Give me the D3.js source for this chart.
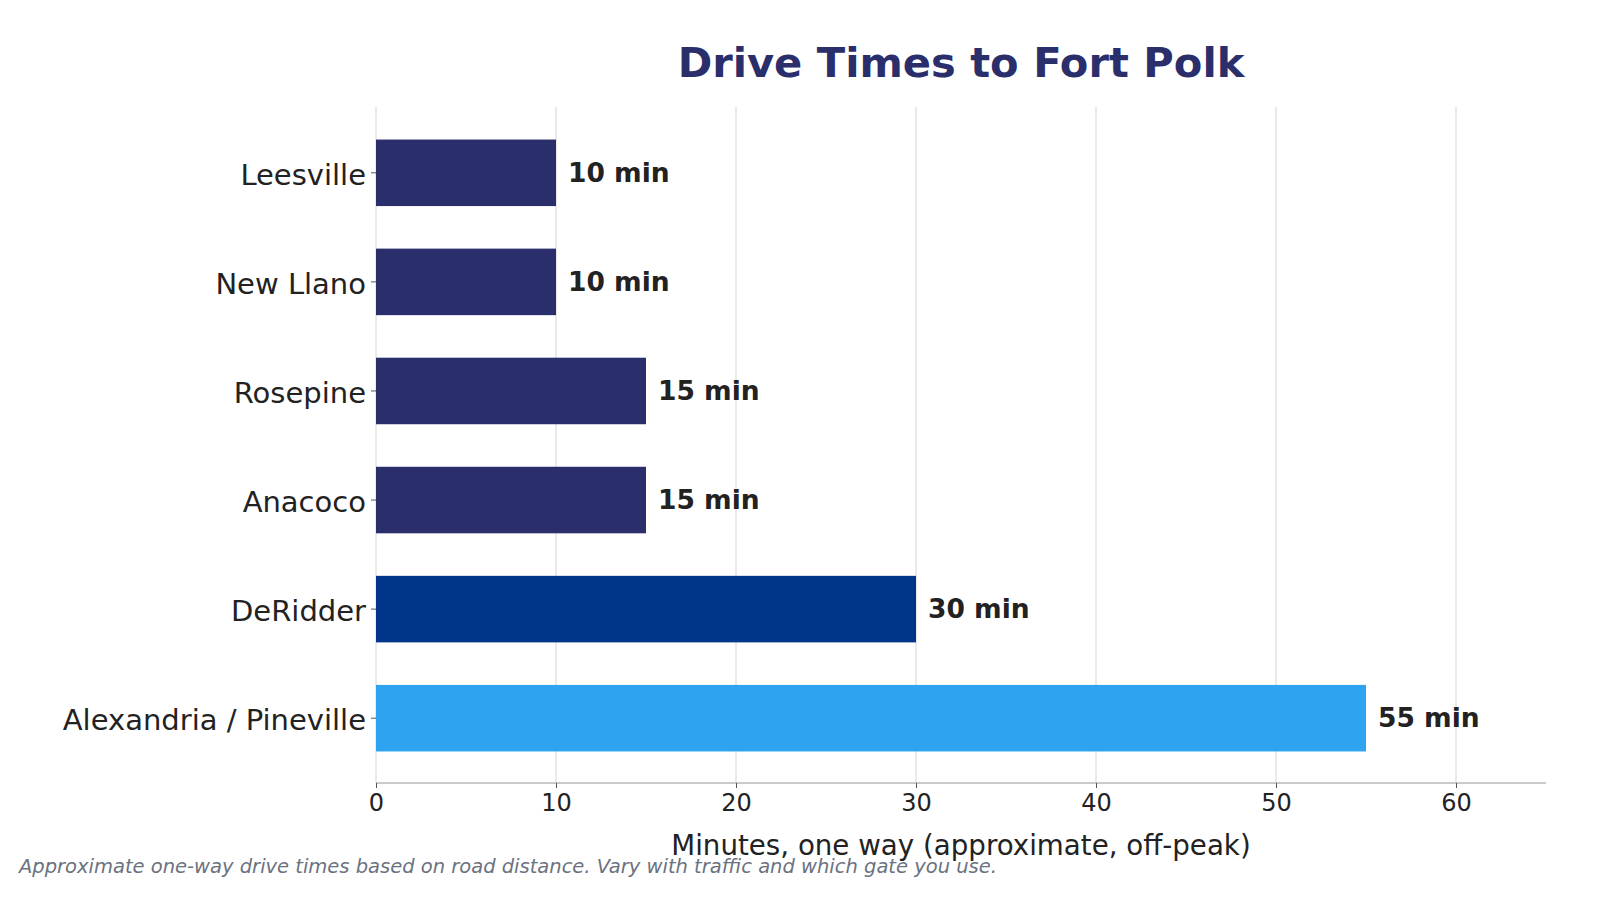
<!DOCTYPE html>
<html>
<head>
<meta charset="utf-8">
<script src="https://cdn.jsdelivr.net/npm/d3@7"></script>
<style>
  html, body { margin: 0; padding: 0; background: #fff; }
  svg { display: block; font-family: "DejaVu Sans", sans-serif; }
</style>
</head>
<body>
<svg id="chart" width="1600" height="900"></svg>
<script>
const categories = ["Leesville", "New Llano", "Rosepine", "Anacoco", "DeRidder", "Alexandria / Pineville"];
const minutes = [10, 10, 15, 15, 30, 55];
const barColors = ["#2a2e6b", "#2a2e6b", "#2a2e6b", "#2a2e6b", "#00368a", "#2ea3f0"];
const xTicks = [0, 10, 20, 30, 40, 50, 60];
const title = "Drive Times to Fort Polk";
const xLabel = "Minutes, one way (approximate, off-peak)";
const footnote = "Approximate one-way drive times based on road distance. Vary with traffic and which gate you use.";

(function () {
const svg = d3.select("#chart");
const mLeft = 376, mRight = 1546, mTop = 107, mBottom = 783;

const x = d3.scaleLinear().domain([0, 65]).range([mLeft, mRight]);
const y = d3.scaleBand().domain(categories).range([109, 782]).paddingInner(0.39).paddingOuter(0.28);

// grid
svg.append("g").selectAll("line").data(xTicks).join("line")
  .attr("x1", d => x(d)).attr("x2", d => x(d))
  .attr("y1", mTop).attr("y2", mBottom)
  .attr("stroke", "#dcdcdc").attr("stroke-width", 1.2);

// bars
svg.append("g").selectAll("rect").data(categories).join("rect")
  .attr("x", x(0))
  .attr("y", d => y(d))
  .attr("width", (d, i) => x(minutes[i]) - x(0))
  .attr("height", y.bandwidth())
  .attr("fill", (d, i) => barColors[i]);

// value labels
svg.append("g").selectAll("text").data(categories).join("text")
  .attr("x", (d, i) => x(minutes[i]) + 12)
  .attr("y", d => y(d) + y.bandwidth() / 2)
  .attr("dy", "0.35em")
  .attr("font-size", "26.5px")
  .attr("font-weight", "bold")
  .attr("fill", "#222222")
  .text((d, i) => minutes[i] + " min");

// x axis
const xAxis = svg.append("g").attr("transform", `translate(0,${mBottom})`)
  .call(d3.axisBottom(x).tickValues(xTicks).tickSize(5).tickPadding(6).tickSizeOuter(0));
xAxis.select(".domain").attr("stroke", "#b8b8b8").attr("stroke-width", 1.3)
  .attr("d", `M${mLeft},0H${mRight}`);
xAxis.selectAll(".tick line").attr("stroke", "#555");
xAxis.selectAll(".tick text").attr("font-size", "24px").attr("fill", "#222")
  .attr("font-family", "DejaVu Sans, sans-serif");

// y axis
const yAxis = svg.append("g").attr("transform", `translate(${mLeft},0)`)
  .call(d3.axisLeft(y).tickSize(5).tickPadding(5).tickSizeOuter(0));
yAxis.select(".domain").remove();
yAxis.selectAll(".tick line").attr("stroke", "#555");
yAxis.selectAll(".tick text").attr("font-size", "29px").attr("fill", "#222")
  .attr("dy", "0.42em")
  .attr("font-family", "DejaVu Sans, sans-serif");

// title
svg.append("text").attr("x", (mLeft + mRight) / 2).attr("y", 77)
  .attr("text-anchor", "middle").attr("font-size", "41.6px").attr("font-weight", "bold")
  .attr("fill", "#2a2e6b").text(title);

// x label
svg.append("text").attr("x", (mLeft + mRight) / 2).attr("y", 855)
  .attr("text-anchor", "middle").attr("font-size", "27.7px").attr("fill", "#222")
  .text(xLabel);

// footnote
svg.append("text").attr("x", 19).attr("y", 873)
  .attr("font-size", "19.5px").attr("font-style", "italic").attr("fill", "#6b7280")
  .text(footnote);
})();
</script>
</body>
</html>
